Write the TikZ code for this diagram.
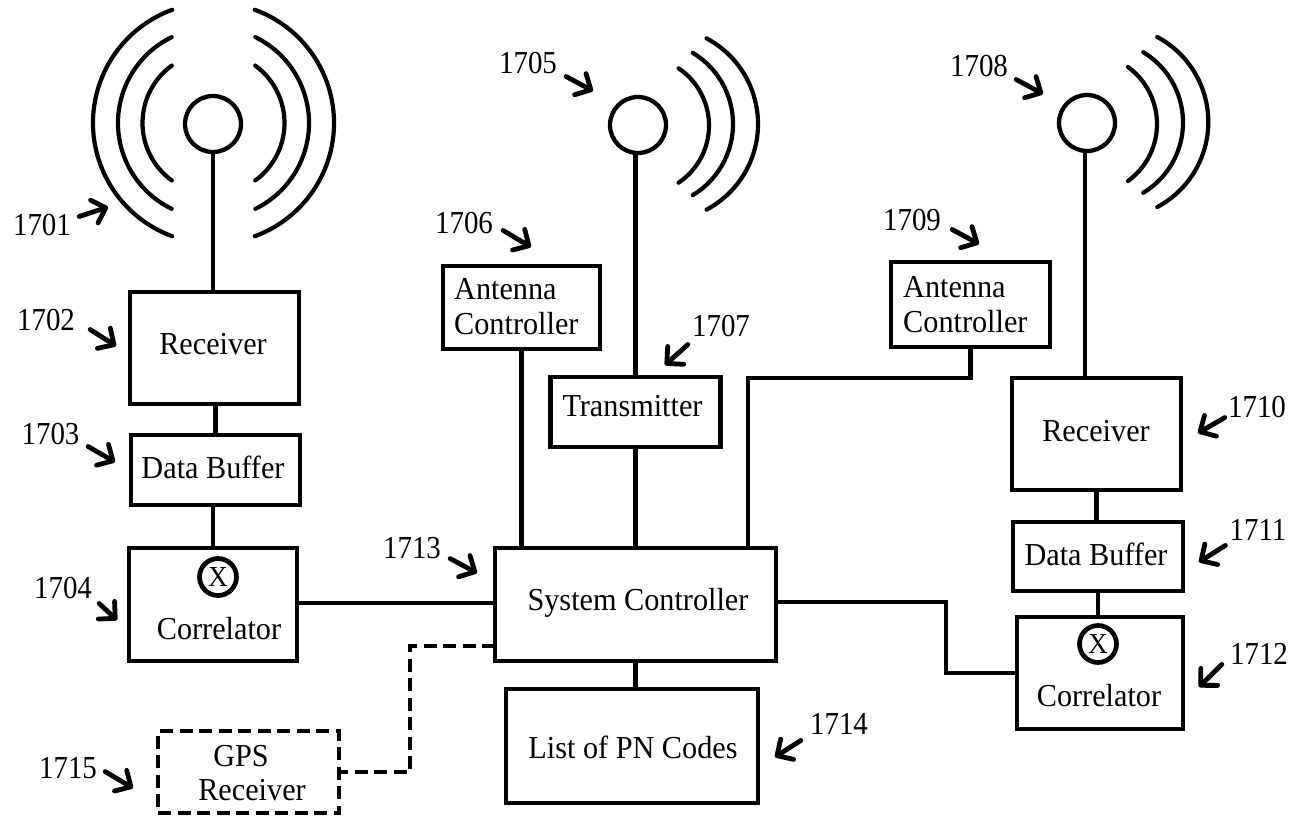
\documentclass[tikz,border=0pt]{standalone}
\usepackage{fontspec}
\setmainfont[FakeStretch=0.945]{Liberation Serif}
\newfontfamily\tagfont[FakeStretch=0.905]{Liberation Serif}
\usetikzlibrary{arrows.meta}

\tikzset{
    unit/.style={draw, rectangle, line width=4.7pt, inner sep=0pt, outer sep=0pt},
    dashbox/.style={unit, line width=4.8pt, dash pattern=on 13pt off 6.5pt},
    ant/.style={draw, circle, line width=4.3pt, minimum size=56pt, inner sep=0pt, outer sep=0pt},
    mix/.style={draw, circle, line width=4.7pt, minimum size=37pt, inner sep=0pt, outer sep=0pt,
        font=\fontsize{29}{29}\selectfont},
    txt/.style={anchor=base, inner sep=0pt},
    tag/.style={anchor=base, inner sep=0pt, font=\tagfont\fontsize{32}{35}\selectfont},
    wire/.style={line width=4.8pt},
    dashwire/.style={line width=4.8pt, dash pattern=on 13pt off 6.5pt},
    wave/.style={line width=4.2pt, line cap=round},
    lead/.style={->, line width=4.8pt, line cap=round},
}

\begin{document}
\begin{tikzpicture}[x=1pt, y=-1pt, >={Straight Barb[length=12pt,width=24pt,round]},
    font=\fontsize{32}{35}\selectfont]

    \useasboundingbox (0,0) rectangle (1295,819);

    % Antennas
    \node[ant] (Ant1) at (213,124) {};
    \node[ant] (Ant2) at (638,125) {};
    \node[ant] (Ant3) at (1087,123) {};

    % Waves
    \foreach \r/\a in {120.5/70, 95.5/64, 71/54} {
        \draw[wave] (213.5,123) ++(\a:\r pt) arc[start angle=\a, end angle=-\a, radius=\r pt];
        \draw[wave] (213.5,123) ++(180-\a:\r pt) arc[start angle=180-\a, end angle=180+\a, radius=\r pt];
    }
    \foreach \cx/\cy/\r/\a in {661/124/97/62, 650/124/83/59, 640/125.5/69/56,
                               1112/122/96.3/62, 1101/122.5/82/59, 1086.5/124/70.5/54} {
        \draw[wave] (\cx,\cy) ++(\a:\r pt) arc[start angle=\a, end angle=-\a, radius=\r pt];
    }

    % Boxes
    \node[unit, minimum width=169pt, minimum height=112pt] (Recv1) at (214.5,348) {};
    \node[unit, minimum width=169pt, minimum height=70pt] (Buf1) at (215.5,470) {};
    \node[unit, minimum width=168pt, minimum height=113pt] (Corr1) at (213,604.5) {};
    \node[unit, minimum width=157pt, minimum height=83pt] (Ctrl1) at (521.5,307.5) {};
    \node[unit, minimum width=170pt, minimum height=70pt] (Trans) at (635.5,412) {};
    \node[unit, minimum width=159pt, minimum height=85pt] (Ctrl2) at (970.5,304.5) {};
    \node[unit, minimum width=281pt, minimum height=113pt] (Sys) at (635.5,604.5) {};
    \node[unit, minimum width=252pt, minimum height=114pt] (List) at (632,746) {};
    \node[unit, minimum width=169pt, minimum height=112pt] (Recv2) at (1096.5,434) {};
    \node[unit, minimum width=170pt, minimum height=69pt] (Buf2) at (1098,556.5) {};
    \node[unit, minimum width=166pt, minimum height=112pt] (Corr2) at (1100,673) {};
    \node[dashbox, minimum width=181pt, minimum height=82pt] (Gps) at (248.5,772) {};

    % Mixers
    \node[mix] (Mix1) at (218,577) {X};
    \node[mix] (Mix2) at (1098,644) {X};

    % Box texts
    \node[txt] (TRecv1) at (213,354) {Receiver};
    \node[txt] (TBuf1) at (213,478) {Data Buffer};
    \node[txt] (TCorr1) at (219,639) {Correlator};
    \node[anchor=west, inner sep=0pt, align=left] (TCtrl1) at (454,306.9) {Antenna\\Controller};
    \node[txt] (TTrans) at (632.5,416) {Transmitter};
    \node[anchor=west, inner sep=0pt, align=left] (TCtrl2) at (903,304.9) {Antenna\\Controller};
    \node[txt] (TSys) at (638,610) {System Controller};
    \node[txt] (TList) at (633,758) {List of PN Codes};
    \node[txt] (TRecv2) at (1096,441) {Receiver};
    \node[txt] (TBuf2) at (1096,565) {Data Buffer};
    \node[txt] (TCorr2) at (1099,706) {Correlator};
    \node[txt] (TGps) at (241,766) {GPS};
    \node[txt] (TGpsRecv) at (252,800) {Receiver};

    % Connections
    \draw[wire] (Ant1.south) -- (Ant1.south |- Recv1.north);
    \draw[wire] (Buf1.north) -- (Buf1.north |- Recv1.south);
    \draw[wire] (Ant1.south |- Buf1.south) -- (Ant1.south |- Corr1.north);
    \draw[wire] (Corr1.east |- 0,603) -- (Sys.west |- 0,603);
    \draw[wire] (Ctrl1.south) -- (Ctrl1.south |- Sys.north);
    \draw[wire] (Trans.north) -- (Trans.north |- Ant2.south);
    \draw[wire] (Trans.south) -- (Trans.south |- Sys.north);
    \draw[wire] (Sys.north -| 748,0) -- (748,378) -| (Ctrl2.south);
    \draw[wire] (Sys.south) -- (Sys.south |- List.north);
    \draw[wire] ([xshift=-2pt]Ant3.south) -- ([xshift=-2pt]Ant3.south |- Recv2.north);
    \draw[wire] (Recv2.south) -- (Recv2.south |- Buf2.north);
    \draw[wire] (Buf2.south) -- (Buf2.south |- Corr2.north);
    \draw[wire] (Sys.east |- 0,602) -- (946,602) |- (Corr2.west);
    \draw[dashwire] (Sys.west |- 0,646) -- (410,646) |- (Gps.east);

    % Numbers
    \node[tag] (L1701) at (42,235) {1701};
    \node[tag] (L1702) at (46,330) {1702};
    \node[tag] (L1703) at (50.5,444) {1703};
    \node[tag] (L1704) at (63,598) {1704};
    \node[tag] (L1705) at (528,73) {1705};
    \node[tag] (L1706) at (464,233) {1706};
    \node[tag] (L1707) at (721,336) {1707};
    \node[tag] (L1708) at (979,76) {1708};
    \node[tag] (L1709) at (912,230) {1709};
    \node[tag] (L1710) at (1257,417) {1710};
    \node[tag] (L1711) at (1258,540) {1711};
    \node[tag] (L1712) at (1259,664) {1712};
    \node[tag] (L1713) at (412,558) {1713};
    \node[tag] (L1714) at (839,734) {1714};
    \node[tag] (L1715) at (68,778) {1715};

    % Arrow targets
    \coordinate (P1701) at (108,207);
    \coordinate (P1702) at (116,346);
    \coordinate (P1703) at (115,462);
    \coordinate (P1704) at (117,620);
    \coordinate (P1705) at (593,91);
    \coordinate (P1706) at (531,247);
    \coordinate (P1707) at (665,365);
    \coordinate (P1708) at (1043,94);
    \coordinate (P1709) at (979,244);
    \coordinate (P1710) at (1198,433);
    \coordinate (P1711) at (1199,562);
    \coordinate (P1712) at (1199,687);
    \coordinate (P1713) at (477,573);
    \coordinate (P1714) at (775,757);
    \coordinate (P1715) at (133,788);

    % Arrows
    \draw[lead] (L1701.east) ++(8,-8) -- (P1701);
    \draw[lead] (L1702.east) ++(15,10) -- (P1702);
    \draw[lead] (L1703.east) ++(8.5,13) -- (P1703);
    \draw[lead] (L1704.east) ++(7,16) -- (P1704);
    \draw[lead] (L1705.east) ++(9,14) -- (P1705);
    \draw[lead] (L1706.east) ++(10,8) -- (P1706);
    \draw[lead] (L1707.west) ++(-4,19) -- (P1707);
    \draw[lead] (L1708.east) ++(8,14) -- (P1708);
    \draw[lead] (L1709.east) ++(11,10) -- (P1709);
    \draw[lead] (L1710.west) ++(-3,11) -- (P1710);
    \draw[lead] (L1711.west) ++(-4,16) -- (P1711);
    \draw[lead] (L1712.west) ++(-8,11) -- (P1712);
    \draw[lead] (L1713.east) ++(9,11) -- (P1713);
    \draw[lead] (L1714.west) ++(-9,17) -- (P1714);
    \draw[lead] (L1715.east) ++(8,4) -- (P1715);

\end{tikzpicture}
\end{document}
